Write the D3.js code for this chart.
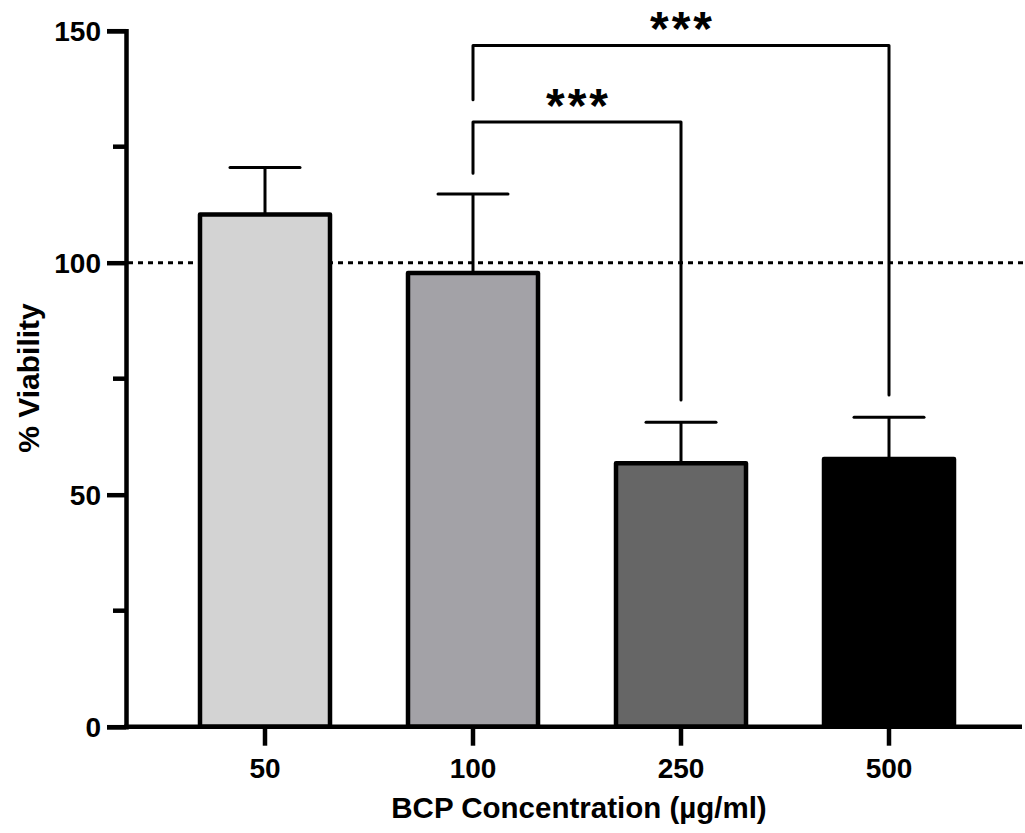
<!DOCTYPE html>
<meta charset="utf-8">
<style>
body { margin: 0; background: #fff; }
svg text { font-family: "Liberation Sans", Arial, sans-serif; font-weight: bold; fill: #000; }
</style>
<svg width="1025" height="833"></svg>
<script src="https://d3js.org/d3.v7.min.js"></script>
<script>

var categories = ["50", "100", "250", "500"];
var means = [110.4, 97.8, 56.8, 57.7];
var errors = [10.1, 17.0, 8.8, 9.0];
var fills = ["#d3d3d3", "#a3a2a7", "#666666", "#000000"];
var yTicks = [0, 50, 100, 150];
var yMinor = [25, 75, 125];

// significance brackets: from group, to group, left foot, top, right foot
var brackets = [
  {from: "100", to: "250", left: 119.3, top: 130.3, right: 70.4, label: "***"},
  {from: "100", to: "500", left: 135.1, top: 146.8, right: 71.5, label: "***"}
];

var svg = d3.select("svg");

var x = d3.scaleBand()
    .domain(categories)
    .range([161, 993])
    .paddingInner(0.375)
    .paddingOuter(0.1875);

var y = d3.scaleLinear()
    .domain([0, 150])
    .range([726.7, 30.7]);

var cx = d => x(d) + x.bandwidth() / 2;

// reference line at 100%
svg.append("line")
    .attr("x1", 128).attr("x2", 1025)
    .attr("y1", y(100)).attr("y2", y(100))
    .attr("stroke", "#000")
    .attr("stroke-width", 3)
    .attr("stroke-dasharray", "5,5");

// error bars (upper only)
var err = svg.append("g");
categories.forEach((c, i) => {
  err.append("line")
      .attr("x1", cx(c)).attr("x2", cx(c))
      .attr("y1", y(means[i])).attr("y2", y(means[i] + errors[i]))
      .attr("stroke", "#000").attr("stroke-width", 3);
  err.append("line")
      .attr("x1", cx(c) - 35).attr("x2", cx(c) + 35)
      .attr("y1", y(means[i] + errors[i])).attr("y2", y(means[i] + errors[i]))
      .attr("stroke", "#000").attr("stroke-width", 3)
      .attr("stroke-linecap", "round");
});

// bars
svg.append("g")
  .selectAll("rect")
  .data(categories)
  .enter().append("rect")
    .attr("x", d => x(d))
    .attr("width", x.bandwidth())
    .attr("y", (d, i) => y(means[i]))
    .attr("height", (d, i) => y(0) - y(means[i]))
    .attr("fill", (d, i) => fills[i])
    .attr("stroke", "#000")
    .attr("stroke-width", 4.5)
    .attr("stroke-linejoin", "round");

// brackets
var br = svg.append("g");
brackets.forEach(b => {
  br.append("path")
      .attr("d", "M" + cx(b.from) + "," + y(b.left) +
                 "V" + y(b.top) +
                 "H" + cx(b.to) +
                 "V" + y(b.right))
      .attr("fill", "none")
      .attr("stroke", "#000")
      .attr("stroke-width", 3)
      .attr("stroke-linecap", "round")
      .attr("stroke-linejoin", "round");
  br.append("text")
      .attr("x", (cx(b.from) + cx(b.to)) / 2 + 1.5)
      .attr("y", y(b.top) - 0.5)
      .attr("text-anchor", "middle")
      .style("font-size", "48px")
      .style("letter-spacing", "3px")
      .text(b.label);
});

// y axis
var yAxis = svg.append("g")
    .attr("transform", "translate(126,0)")
    .call(d3.axisLeft(y).tickValues(yTicks).tickSize(19).tickPadding(6));
yAxis.select(".domain").attr("stroke-width", 4.5);
yAxis.selectAll(".tick line").attr("stroke-width", 4.5);
yAxis.selectAll(".tick text").style("font-size", "28px").attr("dy", "0.36em");

svg.append("g")
    .attr("transform", "translate(126,0)")
    .selectAll("line")
    .data(yMinor)
    .enter().append("line")
      .attr("x1", -13).attr("x2", 0)
      .attr("y1", d => y(d)).attr("y2", d => y(d))
      .attr("stroke", "#000").attr("stroke-width", 4.5);

// x axis
var xAxis = svg.append("g")
    .attr("transform", "translate(0," + y(0) + ")")
    .call(d3.axisBottom(x).tickSize(19).tickPadding(12).tickSizeOuter(0));
xAxis.select(".domain").attr("d", "M124,0H1022").attr("stroke-width", 4.5);
xAxis.selectAll(".tick line").attr("stroke-width", 4.5);
xAxis.selectAll(".tick text").style("font-size", "28px");

// axis titles
svg.append("text")
    .attr("x", 579)
    .attr("y", 818)
    .attr("text-anchor", "middle")
    .style("font-size", "29.5px")
    .text("BCP Concentration (µg/ml)");

svg.append("text")
    .attr("transform", "translate(39,378) rotate(-90)")
    .attr("text-anchor", "middle")
    .style("font-size", "30px")
    .text("% Viability");

</script>
